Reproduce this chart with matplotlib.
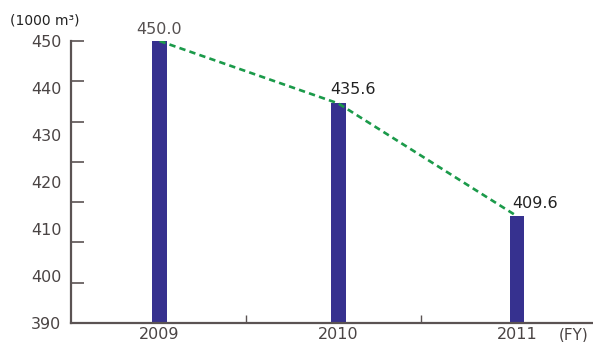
import numpy as np
import matplotlib
matplotlib.use('Agg')
import matplotlib.pyplot as plt
from matplotlib.ticker import FixedLocator, FixedFormatter, NullFormatter

# data
years = ['2009', '2010', '2011']
volume = [450.0, 435.6, 409.6]
value_labels = ['450.0', '435.6', '409.6']
ytick_labels = ['390', '400', '410', '420', '430', '440', '450']

bar_color = '#36318f'
line_color = '#1b9a4a'
axis_color = '#5b5353'
text_gray = '#4a4444'

plt.rcParams['font.family'] = 'DejaVu Sans'

fig = plt.figure(figsize=(5.93, 3.42), dpi=100)
ax = fig.add_axes([71 / 593, 19 / 342, 522 / 593, 282 / 342])

x = np.arange(len(years))
ax.bar(x, volume, width=0.081, color=bar_color, zorder=2)
ax.plot(x, volume, linestyle=(0, (2.4, 1.6)), color=line_color, linewidth=1.9, zorder=3)

ylo, yhi = 385.0, 450.0
ax.set_ylim(ylo, yhi)
ax.set_xlim(-0.495, 2.424)

# value labels
ax.text(x[0], volume[0] + 1.0, value_labels[0], ha='center', va='bottom',
        fontsize=11.5, color='#555050')
ax.text(x[1] - 0.045, volume[1] + 1.6, value_labels[1], ha='left', va='bottom',
        fontsize=11.5, color='#222222')
ax.text(x[2] - 0.025, volume[2] + 1.2, value_labels[2], ha='left', va='bottom',
        fontsize=11.5, color='#222222')

# y axis: tick marks and labels are spaced differently in the original
ax.yaxis.remove_overlapping_locs = False
ax.yaxis.set_major_locator(FixedLocator(np.linspace(ylo, yhi, 7)))
ax.yaxis.set_major_formatter(FixedFormatter(ytick_labels))
ax.yaxis.set_minor_locator(FixedLocator(np.linspace(ylo, yhi, 8)))
ax.yaxis.set_minor_formatter(NullFormatter())
ax.tick_params(axis='y', which='minor', direction='in', length=9, width=1.2,
               color=axis_color)
ax.tick_params(axis='y', which='major', length=0, pad=7, labelsize=11.5,
               labelcolor=text_gray)

# x axis
ax.set_xticks(x)
ax.set_xticklabels(years)
ax.set_xticks([0.482, 1.461], minor=True)
ax.tick_params(axis='x', which='major', length=0, pad=3, labelsize=11.5,
               labelcolor=text_gray)
ax.tick_params(axis='x', which='minor', direction='in', length=6, width=1.0,
               color=axis_color)

for side in ['top', 'right']:
    ax.spines[side].set_visible(False)
for side in ['left', 'bottom']:
    ax.spines[side].set_color(axis_color)
    ax.spines[side].set_linewidth(1.6)

fig.text(10 / 593, 1 - 21 / 342, '(1000 m³)', ha='left', va='center',
         fontsize=10, color='#222222')
fig.text(589 / 593, 1 - 335 / 342, '(FY)', ha='right', va='center',
         fontsize=11, color=text_gray)

fig.savefig('out.png', dpi=100)
